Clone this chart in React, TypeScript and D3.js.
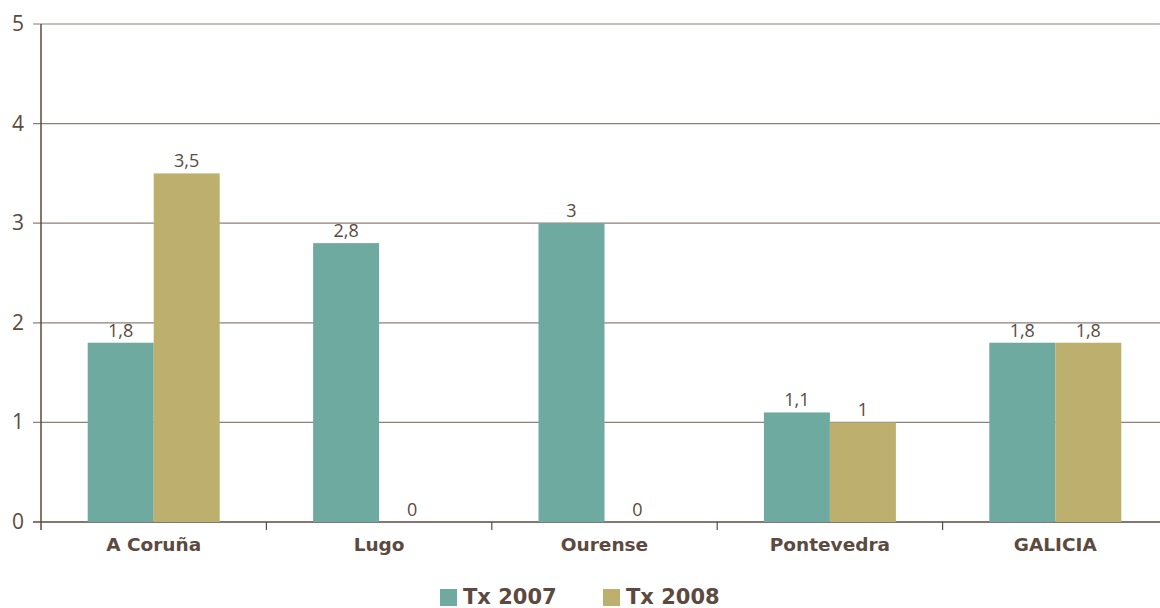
import React from "react";
import * as d3 from "d3";

const categories = ["A Coruña", "Lugo", "Ourense", "Pontevedra", "GALICIA"];
const tx2007 = [1.8, 2.8, 3, 1.1, 1.8];
const tx2008 = [3.5, 0, 0, 1, 1.8];
const seriesNames = ["Tx 2007", "Tx 2008"];
const yTicks = [0, 1, 2, 3, 4, 5];

const colors = ["#6eaaa0", "#bdb06e"];
const textColor = "#5c4a40";
const axisColor = "#5c4a40";
const gridColor = "#8c8079";

export default function App() {
  const W = 1160, H = 608;
  const left = 41, right = 1168, top = 24, bottom = 522;
  const x = d3.scaleBand<string>().domain(categories).range([left, right]).paddingInner(0).paddingOuter(0);
  const y = d3.scaleLinear().domain([0, 5]).range([bottom, top]);
  const barW = 66;
  const series = [tx2007, tx2008];
  const fmt = (v: number) => String(v).replace(".", ",");

  return (
    <svg width={W} height={H} style={{ position: "absolute", left: 0, top: 0, background: "#fff" }}>
      {yTicks.map((t) => (
        <g key={t}>
          <line x1={33} x2={right} y1={y(t)} y2={y(t)} stroke={t === 0 ? axisColor : gridColor} strokeWidth={t === 0 ? 1.5 : 1.2} />
          <text x={24} y={y(t) + 7} textAnchor="end" fontFamily="Open Sans, sans-serif" fontSize={21} fill={textColor}>{t}</text>
        </g>
      ))}
      {categories.map((c, i) => {
        const cx = (x(c) as number) + x.bandwidth() / 2;
        return (
          <g key={c}>
            {series.map((s, j) => {
              const bx = cx - barW + j * barW;
              const v = s[i];
              return (
                <g key={j}>
                  {v > 0 && <rect x={bx} y={y(v)} width={barW} height={bottom - y(v)} fill={colors[j]} />}
                  <text x={bx + barW / 2} y={y(v) - 6} textAnchor="middle" fontFamily="Open Sans, sans-serif" fontSize={18} fill={textColor}>{fmt(v)}</text>
                </g>
              );
            })}
            <text x={cx} y={551} textAnchor="middle" fontFamily="DejaVu Sans, sans-serif" fontWeight="bold" fontSize={18.5} fill={textColor}>{c}</text>
          </g>
        );
      })}
      {categories.slice(1).map((c) => (
        <line key={c} x1={x(c) as number} x2={x(c) as number} y1={bottom} y2={bottom + 8} stroke={axisColor} strokeWidth={1.2} />
      ))}
      <line x1={left} x2={left} y1={top} y2={bottom + 8} stroke={axisColor} strokeWidth={1.5} />
      {seriesNames.map((n, j) => {
        const lx = j === 0 ? 440 : 603;
        return (
          <g key={n}>
            <rect x={lx} y={589} width={17} height={17} fill={colors[j]} />
            <text x={lx + 23} y={604} fontFamily="DejaVu Sans, sans-serif" fontWeight="bold" fontSize={21} fill={textColor}>{n}</text>
          </g>
        );
      })}
    </svg>
  );
}
